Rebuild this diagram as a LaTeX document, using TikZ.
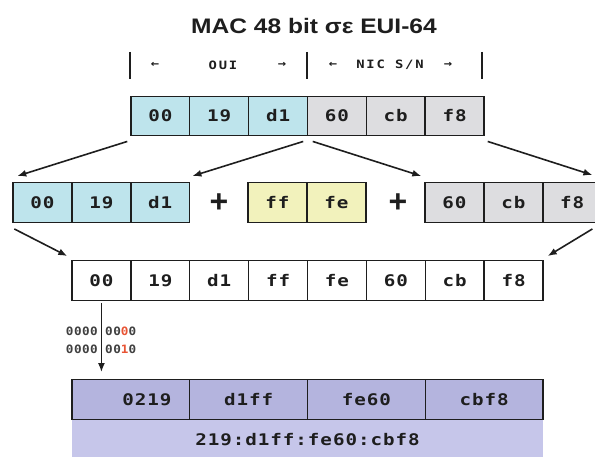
\documentclass[tikz,border=0pt]{standalone}
\usepackage{fontspec}
\setmainfont{Liberation Sans}
\newfontfamily\titlefont[FakeStretch=1.17]{Liberation Sans}
\newfontfamily\hexfont[FakeStretch=1.2,LetterSpace=6]{DejaVu Sans Mono}
\newfontfamily\tagfont[FakeStretch=1.2,LetterSpace=16]{DejaVu Sans Mono}
\newfontfamily\bitfont[FakeStretch=1.1,LetterSpace=4]{DejaVu Sans Mono}
\usetikzlibrary{arrows.meta}

\definecolor{ouiblue}{RGB}{190,228,236}
\definecolor{nicgrey}{RGB}{221,221,224}
\definecolor{fffeyellow}{RGB}{242,242,188}
\definecolor{rowpurple}{RGB}{180,180,222}
\definecolor{bandpurple}{RGB}{198,198,234}
\definecolor{bitred}{RGB}{232,84,52}
\definecolor{ink}{RGB}{30,30,30}

\begin{document}
\begin{tikzpicture}[
    x=1pt, y=-1pt,
    >={Latex[length=9pt,width=7pt]},
    cell/.style={draw=ink, line width=1.4pt, minimum width=58.9pt,
      minimum height=39.5pt, inner sep=0pt, text=ink,
      font=\hexfont\bfseries\fontsize{16}{18}\selectfont},
    wide/.style={cell, minimum width=117.75pt, fill=rowpurple},
    tag/.style={inner sep=0pt, text=ink,
      font=\tagfont\bfseries\fontsize{11.5}{13}\selectfont},
    bits/.style={inner sep=0pt, text=ink!85,
      font=\bitfont\bfseries\fontsize{11.5}{13}\selectfont},
    plus/.style={inner sep=0pt, text=ink,
      font=\bfseries\fontsize{32}{34}\selectfont},
    arr/.style={->, line width=1.6pt, draw=ink}
  ]
    \useasboundingbox (0,0) rectangle (595,457);
    \clip (0,0) rectangle (595,457);

    % Title --------------------------------------------------------
    \node[inner sep=0pt, text=ink,
      font=\titlefont\bfseries\fontsize{21}{24}\selectfont]
      (title) at (314,25.5) {MAC 48 bit σε EUI-64};

    % OUI / NIC ruler ----------------------------------------------
    \foreach \x in {130,307,482}
      \draw[line width=2pt, ink] (\x,52) -- (\x,79);
    \node[tag] (ouiL) at (155,65) {←};
    \node[tag] (oui)  at (223,65) {OUI};
    \node[tag] (ouiR) at (282,65) {→};
    \node[tag] (nicL) at (333,65) {←};
    \node[tag] (nic)  at (390,65) {NIC S/N};
    \node[tag] (nicR) at (448,65) {→};

    % MAC 48 (top row) ---------------------------------------------
    \foreach \lab/\col [count=\i from 0] in
      {00/ouiblue,19/ouiblue,d1/ouiblue,60/nicgrey,cb/nicgrey,f8/nicgrey}
      \node[cell, fill=\col] (t\i) at ({131+58.83*(\i+0.5)},116) {\lab};

    % Split + ff fe ------------------------------------------------
    \foreach \lab [count=\i from 0] in {00,19,d1}
      \node[cell, fill=ouiblue] (m\i) at ({13+58.9*(\i+0.5)},202.5) {\lab};
    \foreach \lab [count=\i from 0] in {ff,fe}
      \node[cell, fill=fffeyellow] (y\i) at ({248+58.9*(\i+0.5)},202.5) {\lab};
    \foreach \lab [count=\i from 0] in {60,cb,f8}
      \node[cell, fill=nicgrey] (g\i) at ({425+58.9*(\i+0.5)},202.5) {\lab};
    \node[plus] (plusA) at (219,203) {+};
    \node[plus] (plusB) at (398,203) {+};

    % EUI-64 (white row) -------------------------------------------
    \foreach \lab [count=\i from 0] in {00,19,d1,ff,fe,60,cb,f8}
      \node[cell, fill=white] (b\i) at ({72+58.875*(\i+0.5)},280.5) {\lab};

    % Flipped bit --------------------------------------------------
    \node[bits, anchor=east] (hiA) at (98,331) {0000};
    \node[bits, anchor=west] (loA) at (105,331) {00\textcolor{bitred}{0}0};
    \node[bits, anchor=east] (hiB) at (98,349) {0000};
    \node[bits, anchor=west] (loB) at (105,349) {00\textcolor{bitred}{1}0};

    % Interface ID (purple) ----------------------------------------
    \node[fill=bandpurple, minimum width=471pt, minimum height=42pt,
      inner sep=0pt, text=ink,
      font=\hexfont\bfseries\fontsize{16}{18}\selectfont]
      (addr) at (307.5,440) {219:d1ff:fe60:cbf8};
    \node[wide] (p0) at (130.875,399.5) {\hspace*{32pt}0219};
    \foreach \lab [count=\i from 1] in {d1ff,fe60,cbf8}
      \node[wide] (p\i) at ({72+117.75*(\i+0.5)},399.5) {\lab};

    % Arrows -------------------------------------------------------
    \draw[arr] ([shift={(-3,5)}]t0.south west) -- ([shift={(5,-6)}]m0.north west);
    \draw[arr] ([shift={(-5,5)}]t2.south east) -- ([shift={(2,-6)}]m2.north east);
    \draw[arr] ([shift={(6,5)}]t3.south west) -- ([shift={(-3,-6)}]g0.north west);
    \draw[arr] ([shift={(3,5)}]t5.south east) -- ([shift={(-10,-7)}]g2.north east);
    \draw[arr] ([shift={(2,6)}]m0.south west) -- ([shift={(-4,-4)}]b0.north west);
    \draw[arr] ([shift={(-10,6)}]g2.south east) -- ([shift={(4,-4)}]b7.north east);
    \path (b0.south |- p0.north) coordinate (pTop);
    \draw[arr] ([shift={(0,2)}]b0.south) -- ([shift={(0,-7)}]pTop);

  \end{tikzpicture}
\end{document}
